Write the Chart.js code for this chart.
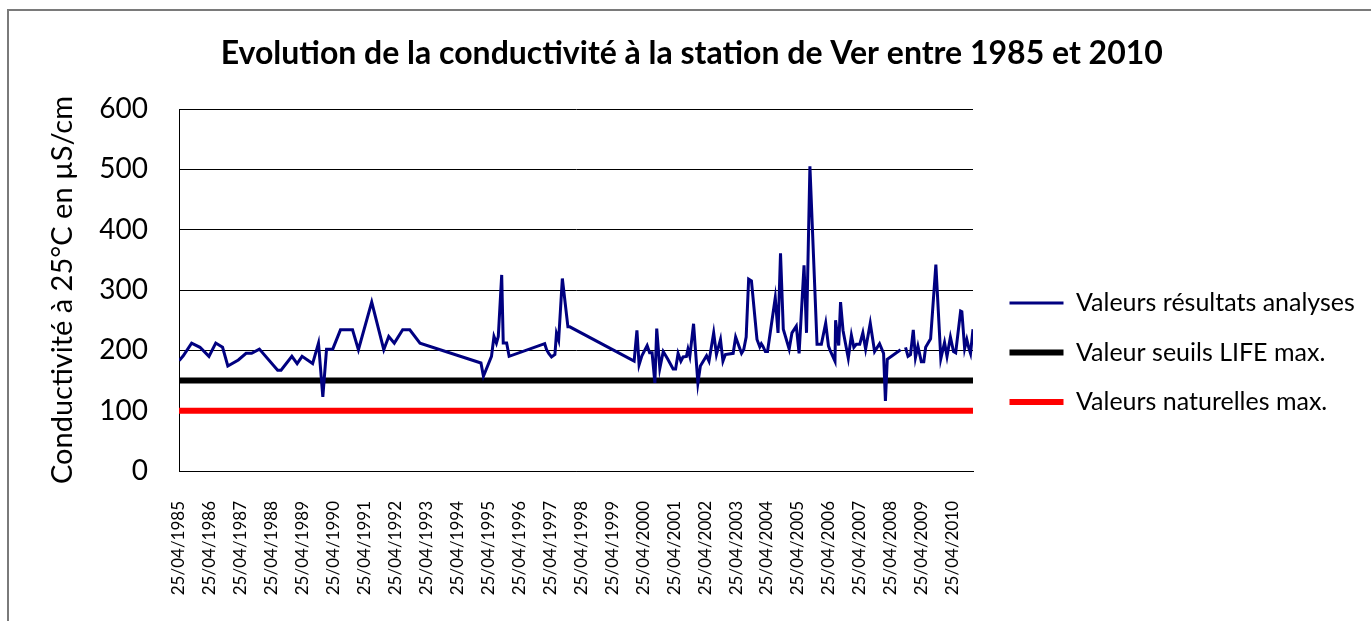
<!DOCTYPE html>
<html>
<head>
<meta charset="utf-8">
<script src="https://cdn.jsdelivr.net/npm/chart.js@4/dist/chart.umd.min.js"></script>
<style>
  html, body { margin: 0; padding: 0; background: #fff; }
  #wrap { position: relative; width: 1371px; height: 621px; overflow: hidden; }
  #frame { position: absolute; left: 7px; top: 9px; width: 1500px; height: 700px;
           border-left: 2px solid #7a7a7a; border-top: 2px solid #7a7a7a; }
  #c { position: absolute; left: 0; top: 0; }
</style>
</head>
<body>
<div id="wrap">
  <div id="frame"></div>
  <canvas id="c" width="1371" height="621"></canvas>
</div>
<script>
// sample dates as decimal years, null = missing value
const sampleYears = [
  1985.32, 1985.45, 1985.72, 1985.99, 1986.28, 1986.50, 1986.72, 1986.89, 1987.23, 1987.48,
  1987.66, 1987.91, 1988.50, 1988.61, 1988.96, 1989.13, 1989.29, 1989.63, 1989.82, 1989.96,
  1990.08, 1990.28, 1990.53, 1990.92, 1991.11, 1991.54, 1991.93, 1992.09, 1992.27, 1992.54,
  1992.77, 1993.10, 1995.07, 1995.15, 1995.41, 1995.49, 1995.57, 1995.63, 1995.74, 1995.79,
  1995.90, 1995.98, 1997.13, 1997.19, 1997.26, 1997.35, 1997.46, 1997.51, 1997.58, 1997.70,
  1997.88, 1997.94, 2000.02, 2000.11, 2000.18, 2000.27, 2000.44, 2000.52, 2000.60, 2000.69,
  2000.75, 2000.85, 2000.96, 2001.10, 2001.28, 2001.36, 2001.44, 2001.53, 2001.60, 2001.71,
  2001.76, 2001.82, 2001.94, 2002.08, 2002.16, 2002.36, 2002.44, 2002.59, 2002.68, 2002.81,
  2002.89, 2002.97, 2003.22, 2003.30, 2003.49, 2003.56, 2003.64, 2003.72, 2003.81, 2003.99,
  2004.08, 2004.13, 2004.18, 2004.26, 2004.33, 2004.58, 2004.67, 2004.75, 2004.84, 2005.03,
  2005.12, 2005.26, 2005.35, 2005.51, 2005.59, 2005.70, 2005.93, 2006.07, 2006.21, 2006.30,
  2006.36, 2006.51, 2006.53, 2006.59, 2006.63, 2006.69, 2006.77, 2006.94, 2007.04, 2007.12,
  2007.20, 2007.31, 2007.41, 2007.50, 2007.65, 2007.79, 2007.95, 2008.08, 2008.14, 2008.20,
  2008.63, 2008.70, 2008.79, 2008.87, 2008.95, 2009.04, 2009.11, 2009.19, 2009.30, 2009.38,
  2009.44, 2009.60, 2009.77, 2009.93, 2010.05, 2010.13, 2010.24, 2010.34, 2010.41, 2010.57,
  2010.61, 2010.70, 2010.77, 2010.84, 2010.89, 2010.97
];
const conductivity = [
  183, 191, 212, 205, 190, 212, 205, 174, 184, 195,
  195, 202, 167, 167, 190, 178, 190, 178, 212, 123,
  202, 202, 234, 234, 201, 280, 201, 223, 212, 234,
  234, 212, 179, 157, 190, 223, 212, 223, 325, 212,
  212, 190, 211, 201, 195, 189, 193, 228, 217, 319,
  239, 239, 182, 233, 176, 191, 208, 196, 196, 146,
  236, 170, 198, 186, 169, 169, 195, 182, 189, 190,
  202, 190, 244, 146, 174, 191, 182, 229, 193, 218,
  182, 193, 195, 222, 195, 201, 222, 318, 315, 218,
  206, 211, 207, 198, 198, 287, 229, 361, 235, 202,
  229, 240, 195, 341, 229, 505, 210, 210, 245, 207,
  199, 182, 250, 224, 208, 280, 233, 187, 225, 205,
  210, 210, 229, 202, 245, 198, 211, 195, 116, 185,
  201, null, 205, 190, 193, 234, 188, 207, 181, 181,
  205, 219, 342, 186, 213, 190, 222, 198, 196, 265,
  264, 203, 218, 203, 195, 235
];
const lifeMax = 150;      // Valeur seuils LIFE max.
const naturalMax = 100;   // Valeurs naturelles max.
const tickYears = [1985, 1986, 1987, 1988, 1989, 1990, 1991, 1992, 1993, 1994, 1995, 1996, 1997,
                   1998, 1999, 2000, 2001, 2002, 2003, 2004, 2005, 2006, 2007, 2008, 2009, 2010];
const APRIL_25 = 114 / 365; // 25/04 as a fraction of the year

const firstX = tickYears[0] + APRIL_25;
const lastX = sampleYears[sampleYears.length - 1];
const FONT = "Lato, 'Open Sans', sans-serif";

const points = sampleYears.map((x, i) => ({ x: x, y: conductivity[i] }));

// move legend to where the original one sits
const legendPlace = {
  id: 'legendPlace',
  afterLayout(chart) {
    const lg = chart.legend;
    const dx = 985 - lg.left;
    const dy = 266 - lg.top;
    lg.left += dx; lg.right += dx;
    lg.top += dy; lg.bottom += dy;
  }
};

const ctx = document.getElementById('c').getContext('2d');
new Chart(ctx, {
  type: 'line',
  data: {
    datasets: [
      {
        label: 'Valeurs résultats analyses',
        data: points,
        borderColor: '#000080',
        backgroundColor: '#000080',
        borderWidth: 3,
        pointRadius: 0,
        tension: 0
      },
      {
        label: 'Valeur seuils LIFE max.',
        data: [{ x: firstX, y: lifeMax }, { x: lastX, y: lifeMax }],
        borderColor: '#000000',
        backgroundColor: '#000000',
        borderWidth: 6,
        borderCapStyle: 'round',
        pointRadius: 0
      },
      {
        label: 'Valeurs naturelles max.',
        data: [{ x: firstX, y: naturalMax }, { x: lastX, y: naturalMax }],
        borderColor: '#ff0000',
        backgroundColor: '#ff0000',
        borderWidth: 6,
        borderCapStyle: 'round',
        pointRadius: 0
      }
    ]
  },
  options: {
    responsive: false,
    animation: false,
    layout: { padding: { left: 38.5, right: 26, top: 0, bottom: 0 } },
    plugins: {
      title: {
        display: true,
        text: 'Evolution de la conductivité à la station de Ver entre 1985 et 2010',
        color: '#000',
        font: { family: FONT, size: 32, weight: 'bold' },
        padding: { top: 34.5, bottom: 36.1 }
      },
      legend: {
        position: 'right',
        align: 'start',
        maxWidth: 372,
        labels: {
          color: '#000',
          font: { family: FONT, size: 25 },
          usePointStyle: true,
          pointStyle: 'line',
          pointStyleWidth: 54,
          padding: 24.5
        }
      },
      tooltip: { enabled: false }
    },
    scales: {
      x: {
        type: 'linear',
        min: firstX,
        max: lastX,
        afterBuildTicks(scale) {
          scale.ticks = tickYears.map(y => ({ value: y + APRIL_25 }));
        },
        afterFit(scale) { scale.height = 150; },
        ticks: {
          color: '#000',
          font: { family: FONT, size: 17 },
          minRotation: 90,
          maxRotation: 90,
          autoSkip: false,
          padding: 30,
          callback: v => '25/04/' + Math.round(v - APRIL_25)
        },
        grid: { display: false, drawTicks: false, tickLength: 0 },
        border: { display: true, color: '#000', width: 1 }
      },
      y: {
        min: 0,
        max: 600,
        afterFit(scale) { scale.width = 140.5; },
        ticks: {
          stepSize: 100,
          color: '#000',
          font: { family: FONT, size: 28 },
          padding: 31
        },
        grid: { color: '#000', lineWidth: 1, drawTicks: false },
        border: { display: true, color: '#000', width: 1 },
        title: {
          display: true,
          text: 'Conductivité à 25°C en µS/cm',
          color: '#000',
          font: { family: FONT, size: 29 },
          padding: { top: 6.5, bottom: 0 }
        }
      }
    }
  },
  plugins: [legendPlace]
});
</script>
</body>
</html>
